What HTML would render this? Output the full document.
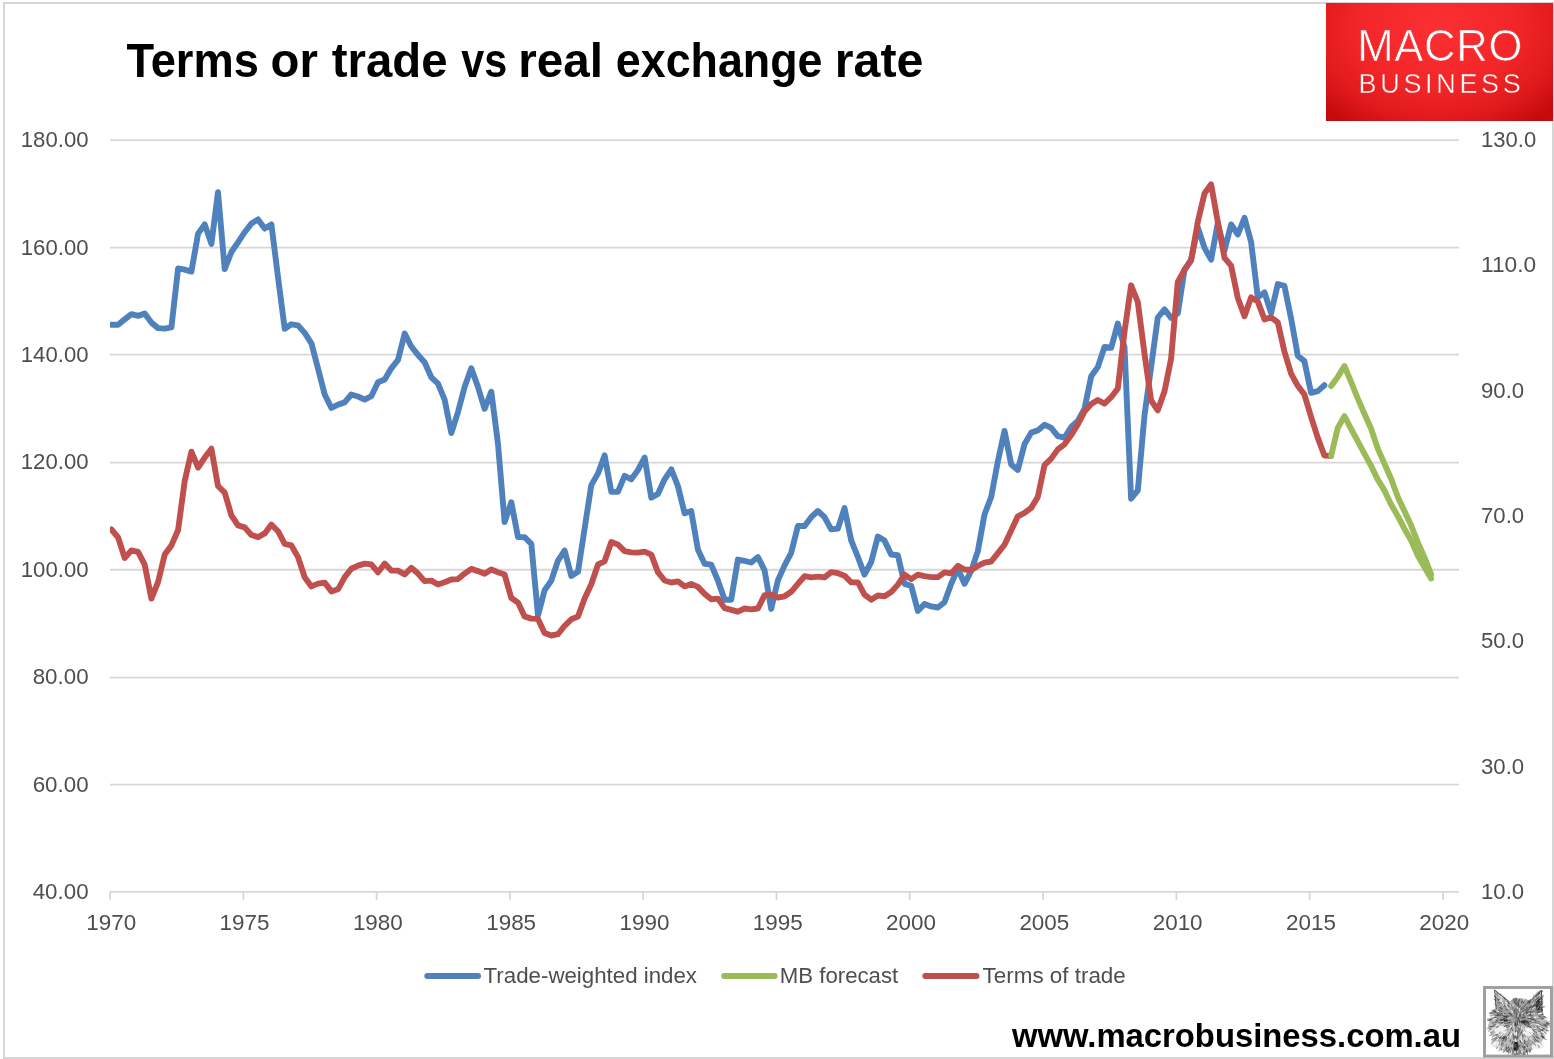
<!DOCTYPE html>
<html lang="en"><head><meta charset="utf-8"><title>Terms or trade vs real exchange rate</title>
<style>
html,body{margin:0;padding:0;background:#fff;}
body{width:1554px;height:1059px;overflow:hidden;}
svg{display:block;}
text{font-family:"Liberation Sans",sans-serif;}
.ax{font-size:21.8px;fill:#4e4e4e;}
.lg{font-size:22.5px;fill:#4e4e4e;}
.ttl{font-size:49px;font-weight:bold;fill:#000;}
.ftr{font-size:33px;font-weight:bold;fill:#000;}
</style></head><body>
<svg width="1554" height="1059" viewBox="0 0 1554 1059">
<defs>
<radialGradient id="lg1" gradientUnits="userSpaceOnUse" cx="1437" cy="28" r="158" gradientTransform="translate(1437 28) scale(1 0.74) translate(-1437 -28)">
<stop offset="0" stop-color="#fc3032"/><stop offset="0.5" stop-color="#f22628"/><stop offset="0.78" stop-color="#e01a1c"/><stop offset="1" stop-color="#c40a0c"/>
</radialGradient>
</defs>
<rect x="0" y="0" width="1554" height="1059" fill="#fff"/>
<rect x="4" y="3" width="1549" height="1055" fill="none" stroke="#d6d6d6" stroke-width="2"/>

<g stroke="#d7d7d7" stroke-width="1.8" fill="none">
<line x1="110" y1="140.04" x2="1459" y2="140.04"/>
<line x1="110" y1="247.60" x2="1459" y2="247.60"/>
<line x1="110" y1="354.60" x2="1459" y2="354.60"/>
<line x1="110" y1="462.70" x2="1459" y2="462.70"/>
<line x1="110" y1="569.75" x2="1459" y2="569.75"/>
<line x1="110" y1="677.60" x2="1459" y2="677.60"/>
<line x1="110" y1="784.65" x2="1459" y2="784.65"/>
<line x1="110" y1="891.97" x2="1459" y2="891.97"/>
<line x1="110.0" y1="892" x2="110.0" y2="900"/>
<line x1="243.3" y1="892" x2="243.3" y2="900"/>
<line x1="376.6" y1="892" x2="376.6" y2="900"/>
<line x1="509.9" y1="892" x2="509.9" y2="900"/>
<line x1="643.2" y1="892" x2="643.2" y2="900"/>
<line x1="776.5" y1="892" x2="776.5" y2="900"/>
<line x1="909.8" y1="892" x2="909.8" y2="900"/>
<line x1="1043.1" y1="892" x2="1043.1" y2="900"/>
<line x1="1176.4" y1="892" x2="1176.4" y2="900"/>
<line x1="1309.7" y1="892" x2="1309.7" y2="900"/>
<line x1="1443.0" y1="892" x2="1443.0" y2="900"/>
</g>
<text class="ax" x="20.8" y="147.1" textLength="67.8" lengthAdjust="spacingAndGlyphs">180.00</text>
<text class="ax" x="20.8" y="254.5" textLength="67.8" lengthAdjust="spacingAndGlyphs">160.00</text>
<text class="ax" x="20.8" y="362.0" textLength="67.8" lengthAdjust="spacingAndGlyphs">140.00</text>
<text class="ax" x="20.8" y="469.4" textLength="67.8" lengthAdjust="spacingAndGlyphs">120.00</text>
<text class="ax" x="20.8" y="576.8" textLength="67.8" lengthAdjust="spacingAndGlyphs">100.00</text>
<text class="ax" x="32.7" y="684.3" textLength="55.9" lengthAdjust="spacingAndGlyphs">80.00</text>
<text class="ax" x="32.7" y="791.7" textLength="55.9" lengthAdjust="spacingAndGlyphs">60.00</text>
<text class="ax" x="32.7" y="899.1" textLength="55.9" lengthAdjust="spacingAndGlyphs">40.00</text>
<text class="ax" x="1481" y="147.1" textLength="55.2" lengthAdjust="spacingAndGlyphs">130.0</text>
<text class="ax" x="1481" y="272.4" textLength="55.2" lengthAdjust="spacingAndGlyphs">110.0</text>
<text class="ax" x="1481" y="397.8" textLength="43.2" lengthAdjust="spacingAndGlyphs">90.0</text>
<text class="ax" x="1481" y="523.1" textLength="43.2" lengthAdjust="spacingAndGlyphs">70.0</text>
<text class="ax" x="1481" y="648.4" textLength="43.2" lengthAdjust="spacingAndGlyphs">50.0</text>
<text class="ax" x="1481" y="773.8" textLength="43.2" lengthAdjust="spacingAndGlyphs">30.0</text>
<text class="ax" x="1481" y="899.1" textLength="43.2" lengthAdjust="spacingAndGlyphs">10.0</text>
<text class="ax" x="86.3" y="930.4" textLength="49.9" lengthAdjust="spacingAndGlyphs">1970</text>
<text class="ax" x="219.6" y="930.4" textLength="49.9" lengthAdjust="spacingAndGlyphs">1975</text>
<text class="ax" x="352.9" y="930.4" textLength="49.9" lengthAdjust="spacingAndGlyphs">1980</text>
<text class="ax" x="486.2" y="930.4" textLength="49.9" lengthAdjust="spacingAndGlyphs">1985</text>
<text class="ax" x="619.5" y="930.4" textLength="49.9" lengthAdjust="spacingAndGlyphs">1990</text>
<text class="ax" x="752.8" y="930.4" textLength="49.9" lengthAdjust="spacingAndGlyphs">1995</text>
<text class="ax" x="886.1" y="930.4" textLength="49.9" lengthAdjust="spacingAndGlyphs">2000</text>
<text class="ax" x="1019.4" y="930.4" textLength="49.9" lengthAdjust="spacingAndGlyphs">2005</text>
<text class="ax" x="1152.7" y="930.4" textLength="49.9" lengthAdjust="spacingAndGlyphs">2010</text>
<text class="ax" x="1286.0" y="930.4" textLength="49.9" lengthAdjust="spacingAndGlyphs">2015</text>
<text class="ax" x="1419.3" y="930.4" textLength="49.9" lengthAdjust="spacingAndGlyphs">2020</text>
<clipPath id="pc"><rect x="110" y="120" width="1360" height="780"/></clipPath>
<g fill="none" stroke-width="5.9" stroke-linejoin="round" stroke-linecap="round" clip-path="url(#pc)">
<polyline stroke="#4f81bd" points="111.4,324.8 118.1,324.8 124.7,319.4 131.4,314.2 138.1,315.9 144.7,313.6 151.4,322.6 158.1,328.1 164.7,328.6 171.4,327.3 178.1,268.4 184.7,269.6 191.4,271.6 198.1,233.6 204.7,224.4 211.4,243.9 218.0,192.2 224.7,269.1 231.4,252.0 238.0,242.3 244.7,232.2 251.4,223.5 258.0,219.4 264.7,228.6 271.4,224.4 278.0,277.1 284.7,328.9 291.4,324.3 298.0,325.4 304.7,332.9 311.4,343.3 318.0,368.6 324.7,394.5 331.4,407.9 338.0,404.6 344.7,402.4 351.3,394.5 358.0,396.5 364.7,399.6 371.3,396.2 378.0,382.3 384.7,379.5 391.3,368.3 398.0,359.9 404.7,333.5 411.3,346.5 418.0,354.9 424.6,362.2 431.3,377.3 438.0,383.6 444.6,399.6 451.3,433.0 458.0,412.1 464.6,387.0 471.3,368.3 478.0,387.0 484.6,408.8 491.3,391.7 498.0,443.9 504.6,522.0 511.3,502.2 518.0,537.1 524.6,537.2 531.3,543.8 538.0,615.4 544.6,590.3 551.3,580.6 558.0,560.5 564.6,550.5 571.3,576.0 578.0,571.7 584.6,528.6 591.3,485.1 598.0,473.4 604.6,455.4 611.3,491.9 617.9,491.9 624.6,475.9 631.3,479.3 637.9,470.1 644.6,457.6 651.3,497.7 657.9,493.9 664.6,479.3 671.3,469.3 677.9,486.0 684.6,513.3 691.2,511.1 697.9,549.6 704.6,563.8 711.2,564.6 717.9,580.5 724.6,599.8 731.2,599.7 737.9,559.6 744.6,560.9 751.2,562.5 757.9,557.0 764.6,570.4 771.2,608.9 777.9,580.4 784.6,565.4 791.2,552.8 797.9,526.0 804.6,526.0 811.2,517.2 817.9,511.0 824.5,517.2 831.2,529.4 837.9,528.6 844.5,508.1 851.2,540.3 857.9,557.0 864.5,574.6 871.2,562.0 877.9,536.6 884.5,540.6 891.2,554.5 897.9,555.3 904.5,583.8 911.2,585.8 917.9,610.9 924.5,603.9 931.2,606.4 937.9,607.5 944.5,602.2 951.2,583.8 957.9,568.7 964.5,583.8 971.2,570.9 977.9,550.9 984.5,514.5 991.2,497.0 997.9,461.1 1004.5,430.9 1011.2,464.4 1017.8,469.9 1024.5,444.3 1031.2,432.6 1037.8,430.4 1044.5,424.8 1051.2,427.9 1057.8,436.1 1064.5,437.6 1071.2,427.0 1077.8,420.8 1084.5,408.6 1091.2,376.3 1097.8,367.1 1104.5,347.0 1111.2,347.8 1117.8,323.6 1124.5,347.0 1131.1,498.7 1137.8,490.4 1144.5,415.3 1151.1,367.1 1157.8,317.5 1164.5,309.3 1171.1,317.9 1177.8,313.3 1184.5,269.8 1191.1,259.6 1197.8,227.3 1204.5,247.9 1211.1,259.6 1217.8,223.1 1224.5,250.4 1231.1,224.4 1237.8,234.5 1244.5,217.8 1251.1,242.0 1257.8,297.4 1264.5,292.4 1271.1,313.2 1277.8,284.1 1284.4,285.9 1291.1,318.6 1297.8,355.7 1304.4,361.1 1311.1,392.8 1317.8,391.1 1324.4,385.2"/>
<polyline stroke="#c0504d" points="111.4,529.5 118.1,537.4 124.7,558.0 131.4,550.4 138.1,551.8 144.7,564.7 151.4,598.6 158.1,581.9 164.7,554.6 171.4,545.4 178.1,530.0 184.7,481.0 191.4,451.7 198.1,467.6 204.7,457.6 211.4,448.7 218.0,486.0 224.7,492.7 231.4,515.3 238.0,525.4 244.7,527.4 251.4,535.0 258.0,537.1 264.7,533.4 271.4,524.5 278.0,531.2 284.7,543.8 291.4,545.4 298.0,557.1 304.7,577.2 311.4,586.4 318.0,583.6 324.7,582.6 331.4,591.4 338.0,589.3 344.7,577.1 351.3,568.7 358.0,565.6 364.7,563.6 371.3,564.4 378.0,572.3 384.7,563.6 391.3,570.6 398.0,570.6 404.7,574.5 411.3,567.8 418.0,573.6 424.6,581.1 431.3,580.6 438.0,584.5 444.6,582.3 451.3,579.5 458.0,579.1 464.6,573.6 471.3,568.9 478.0,571.1 484.6,573.7 491.3,569.5 498.0,572.2 504.6,574.6 511.3,598.0 518.0,602.6 524.6,616.4 531.3,618.6 538.0,618.9 544.6,633.0 551.3,635.5 558.0,634.2 564.6,625.8 571.3,619.3 578.0,616.6 584.6,598.4 591.3,584.2 598.0,564.5 604.6,561.3 611.3,542.0 617.9,544.5 624.6,551.2 631.3,552.4 637.9,552.6 644.6,551.6 651.3,554.6 657.9,572.1 664.6,580.5 671.3,582.5 677.9,581.4 684.6,586.4 691.2,583.9 697.9,586.9 704.6,593.9 711.2,599.3 717.9,598.6 724.6,608.1 731.2,609.8 737.9,611.7 744.6,608.5 751.2,609.4 757.9,608.5 764.6,595.1 771.2,594.6 777.9,597.5 784.6,596.3 791.2,591.8 797.9,583.8 804.6,576.2 811.2,577.4 817.9,576.6 824.5,577.4 831.2,572.1 837.9,573.2 844.5,575.7 851.2,582.4 857.9,582.4 864.5,594.6 871.2,599.7 877.9,595.5 884.5,596.3 891.2,592.1 897.9,584.6 904.5,574.6 911.2,579.1 917.9,574.6 924.5,576.2 931.2,577.1 937.9,577.1 944.5,572.4 951.2,573.4 957.9,565.9 964.5,569.5 971.2,570.0 977.9,565.9 984.5,562.6 991.2,561.5 997.9,553.1 1004.5,544.7 1011.2,530.5 1017.8,516.3 1024.5,512.9 1031.2,507.9 1037.8,497.0 1044.5,465.2 1051.2,458.6 1057.8,449.4 1064.5,444.3 1071.2,435.1 1077.8,424.5 1084.5,411.6 1091.2,404.0 1097.8,400.0 1104.5,403.6 1111.2,397.2 1117.8,388.5 1124.5,331.9 1131.1,285.3 1137.8,302.0 1144.5,353.7 1151.1,400.5 1157.8,410.3 1164.5,391.3 1171.1,358.7 1177.8,282.0 1184.5,269.8 1191.1,260.6 1197.8,221.9 1204.5,193.5 1211.1,184.3 1217.8,221.9 1224.5,257.9 1231.1,265.6 1237.8,297.9 1244.5,316.3 1251.1,297.4 1257.8,301.6 1264.5,319.4 1271.1,317.3 1277.8,322.3 1284.4,351.5 1291.1,373.6 1297.8,385.8 1304.4,394.6 1311.1,417.0 1317.8,437.9 1324.4,455.5 1331.1,455.9"/>
<polyline stroke="#9bbb59" points="1331.1,386.1 1337.8,376.9 1344.4,366.0 1351.1,381.9 1357.8,398.6 1364.4,413.7 1371.1,428.8 1377.8,448.6 1384.4,463.6 1391.1,478.7 1397.8,496.9 1404.4,511.1 1411.1,525.3 1417.7,542.1 1424.4,557.1 1431.1,574.4"/>
<polyline stroke="#9bbb59" points="1331.1,455.9 1337.8,427.9 1344.4,416.2 1351.1,428.8 1357.8,441.3 1364.4,453.6 1371.1,465.8 1377.8,479.6 1384.4,490.4 1391.1,504.4 1397.8,516.1 1404.4,528.7 1411.1,540.4 1417.7,555.4 1424.4,567.1 1431.1,578.5"/>
</g>
<g fill="none" stroke-width="6" stroke-linecap="round">
<line x1="427.3" y1="975.9" x2="478" y2="975.9" stroke="#4f81bd"/>
<line x1="724.2" y1="975.9" x2="774.6" y2="975.9" stroke="#9bbb59"/>
<line x1="925.3" y1="975.9" x2="976.5" y2="975.9" stroke="#c0504d"/>
</g>
<text class="lg" x="483.6" y="983.2" textLength="213.4" lengthAdjust="spacingAndGlyphs">Trade-weighted index</text>
<text class="lg" x="779.8" y="983.2" textLength="118.4" lengthAdjust="spacingAndGlyphs">MB forecast</text>
<text class="lg" x="982.6" y="983.2" textLength="143.2" lengthAdjust="spacingAndGlyphs">Terms of trade</text>
<text class="ttl" x="126.4" y="76.8" textLength="132.5" lengthAdjust="spacingAndGlyphs">Terms</text>
<text class="ttl" x="270.6" y="76.8" textLength="47.3" lengthAdjust="spacingAndGlyphs">or</text>
<text class="ttl" x="331.8" y="76.8" textLength="115.7" lengthAdjust="spacingAndGlyphs">trade</text>
<text class="ttl" x="461.2" y="76.8" textLength="45.9" lengthAdjust="spacingAndGlyphs">vs</text>
<text class="ttl" x="518.2" y="76.8" textLength="84.7" lengthAdjust="spacingAndGlyphs">real</text>
<text class="ttl" x="615.8" y="76.8" textLength="206.7" lengthAdjust="spacingAndGlyphs">exchange</text>
<text class="ttl" x="834.8" y="76.8" textLength="88.6" lengthAdjust="spacingAndGlyphs">rate</text>
<text class="ftr" x="1012" y="1047" textLength="449" lengthAdjust="spacingAndGlyphs">www.macrobusiness.com.au</text>
<rect x="1326" y="3" width="227" height="118" fill="url(#lg1)"/>
<text x="1357.2" y="60.9" font-size="43.6" fill="#fff" stroke="url(#lg1)" stroke-width="0.7" textLength="165.2" lengthAdjust="spacing">MACRO</text>
<text x="1358.6" y="92.9" font-size="27" fill="#fff" stroke="url(#lg1)" stroke-width="0.45" textLength="162.2" lengthAdjust="spacing">BUSINESS</text>
<rect x="1484.5" y="987.5" width="67" height="68.6" fill="#fff" stroke="#a0a0a0" stroke-width="3"/>
<clipPath id="fc"><rect x="1486" y="989" width="64" height="66"/></clipPath><g clip-path="url(#fc)"><clipPath id="fh"><polygon points="1494.6,990.1 1503.3,997.2 1509.7,1002.0 1514.4,997.6 1525.5,998.8 1530.3,1001.2 1536.6,992.1 1541.8,990.1 1542.6,1001.2 1541.8,1012.3 1547.3,1019.4 1548.1,1027.4 1545.4,1035.3 1541.4,1042.4 1533.5,1048.8 1525.5,1053.5 1517.6,1054.7 1509.7,1053.5 1501.7,1050.4 1493.8,1044.8 1491.4,1035.3 1487.8,1026.6 1490.6,1016.2 1493.0,1009.9 1496.6,1008.3 1495.4,998.8"/></clipPath>
<polygon points="1494.6,990.1 1503.3,997.2 1509.7,1002.0 1514.4,997.6 1525.5,998.8 1530.3,1001.2 1536.6,992.1 1541.8,990.1 1542.6,1001.2 1541.8,1012.3 1547.3,1019.4 1548.1,1027.4 1545.4,1035.3 1541.4,1042.4 1533.5,1048.8 1525.5,1053.5 1517.6,1054.7 1509.7,1053.5 1501.7,1050.4 1493.8,1044.8 1491.4,1035.3 1487.8,1026.6 1490.6,1016.2 1493.0,1009.9 1496.6,1008.3 1495.4,998.8" fill="#bdbdbd"/>
<ellipse cx="1517.6" cy="1012.3" rx="26.2" ry="13.5" fill="#a2a2a2" clip-path="url(#fh)"/>
<ellipse cx="1500.9" cy="1030.5" rx="6.3" ry="4.4" fill="#eeeeee"/>
<ellipse cx="1527.9" cy="1032.1" rx="5.6" ry="4.0" fill="#eeeeee"/>
<ellipse cx="1496.2" cy="1044.8" rx="5.6" ry="3.2" fill="#eeeeee"/>
<ellipse cx="1538.2" cy="1045.6" rx="6.3" ry="3.2" fill="#eeeeee"/>
<ellipse cx="1504.1" cy="1020.2" rx="4.4" ry="1.7" fill="#4a4a4a"/>
<ellipse cx="1524.7" cy="1021.8" rx="4.4" ry="1.9" fill="#3a3a3a"/>
<ellipse cx="1516.0" cy="1046.4" rx="2.5" ry="4.4" fill="#111"/>
<ellipse cx="1538.2" cy="1005.9" rx="2.4" ry="6.3" fill="#333"/>
<ellipse cx="1503.3" cy="1037.7" rx="4.4" ry="1.4" fill="#555"/>
<path d="M1515.2 1044.4L1515.0 1045.7M1541.3 1007.4L1544.4 1006.8M1495.7 1000.6L1493.9 999.1M1499.4 999.7L1498.0 999.0M1502.1 1011.9L1499.7 1009.8M1515.8 1020.9L1516.0 1023.8M1530.6 1006.2L1532.5 1005.0M1509.3 1003.6L1507.9 1001.6M1508.4 1025.2L1506.0 1025.9M1518.1 1024.1L1518.2 1025.3M1496.3 1017.5L1494.5 1017.7M1521.5 1018.1L1523.6 1017.6M1522.5 1035.2L1523.0 1037.2M1501.3 996.2L1500.0 995.0M1533.4 1005.9L1536.1 1004.6M1528.9 1007.6L1530.0 1006.5M1510.4 1020.3L1509.2 1020.5M1517.5 1018.8L1517.6 1021.6M1509.1 1017.3L1506.2 1017.3M1504.3 1050.7L1503.7 1052.2M1505.3 1025.8L1504.1 1026.9M1510.2 1013.7L1508.6 1013.0M1526.6 1051.3L1527.5 1054.2M1534.2 1005.3L1535.7 1004.2M1517.9 1035.8L1517.8 1038.4M1529.4 1001.2L1531.1 999.6M1519.1 1014.3L1519.0 1015.6M1528.2 1018.5L1530.3 1018.5M1497.5 1020.2L1496.1 1020.4M1502.8 1022.4L1501.4 1023.0M1528.5 1009.6L1529.9 1007.7M1538.1 1000.5L1539.6 998.0M1533.5 1018.9L1534.7 1018.6M1526.4 1008.0L1527.7 1006.9M1506.4 1017.0L1503.8 1016.8M1508.2 1035.5L1507.3 1036.5M1538.5 1000.2L1541.2 998.6M1531.0 1044.7L1532.2 1046.1M1519.4 999.6L1519.3 1001.0M1536.9 1037.4L1537.8 1038.4M1518.0 1030.7L1518.1 1033.4M1500.0 1041.9L1499.0 1044.5M1516.0 1008.4L1516.1 1011.3M1532.2 1007.6L1533.8 1006.3M1539.7 1002.0L1541.5 1001.1M1529.8 1049.3L1530.8 1051.9M1519.4 1020.5L1519.6 1023.0M1498.9 1000.9L1496.9 998.7M1528.9 1014.9L1532.0 1014.9M1528.8 1002.9L1529.5 1001.5M1524.9 1021.7L1527.4 1022.6M1537.9 1027.5L1539.7 1028.5M1541.6 1036.3L1543.5 1037.6M1513.7 1022.3L1513.5 1025.4M1524.0 1052.1L1524.6 1054.3M1495.5 997.2L1494.2 996.0M1523.5 1021.9L1526.1 1022.7M1514.4 1001.2L1514.4 1002.5M1513.3 1049.1L1512.9 1051.3M1519.1 1023.1L1519.1 1025.0M1542.8 1016.8L1545.0 1016.6M1522.8 1016.1L1524.1 1015.7M1535.3 1010.3L1536.7 1009.2M1520.2 1014.4L1520.0 1016.3M1493.9 1022.9L1491.9 1022.8M1540.5 1010.2L1542.3 1009.6M1518.0 1008.6L1518.3 1011.2M1540.2 1012.2L1542.7 1010.6M1533.0 1036.0L1534.3 1036.9M1505.4 1014.1L1504.1 1013.3M1513.8 1034.2L1513.7 1035.9M1508.9 1016.2L1506.3 1015.8M1517.6 1022.0L1518.0 1024.5M1504.9 1018.2L1503.6 1018.4M1518.1 1046.6L1518.9 1049.4M1529.5 1014.9L1531.5 1014.7M1515.4 1054.1L1515.1 1055.8M1516.8 1013.2L1516.9 1014.4M1503.7 1006.0L1501.6 1004.5M1546.5 1030.4L1548.5 1030.8M1495.7 1037.6L1494.5 1038.3M1542.5 1037.3L1543.7 1037.8M1512.1 1025.7L1510.4 1027.5M1541.9 1036.4L1544.6 1038.0M1510.8 1014.4L1510.2 1013.4M1529.5 1013.2L1531.1 1012.2M1498.9 1026.7L1497.2 1027.1M1509.8 1032.9L1508.6 1034.5M1516.3 1047.8L1516.2 1050.6M1528.9 1037.9L1529.9 1039.9M1535.2 1039.8L1537.7 1041.3M1503.6 1006.3L1502.4 1004.3M1518.7 1016.7L1518.4 1019.6M1520.1 1016.0L1520.0 1017.8M1527.0 1003.7L1528.4 1001.5M1517.0 1046.0L1517.5 1047.4M1498.7 1015.6L1495.7 1015.6M1536.2 1035.9L1538.4 1038.1M1512.4 1015.9L1510.7 1014.0M1495.7 1011.7L1493.8 1011.4M1539.7 1004.3L1541.2 1002.8M1540.1 1029.9L1542.6 1030.5M1539.2 999.7L1541.0 997.2M1515.1 1042.4L1515.6 1044.7M1533.3 1000.3L1534.3 998.6M1509.2 1049.6L1508.6 1051.2M1512.4 1042.3L1511.5 1045.3M1524.6 1043.4L1525.3 1044.6M1537.3 1012.7L1539.2 1012.6M1518.5 1002.8L1518.3 1005.9M1517.0 1031.2L1517.1 1032.6M1514.3 1035.6L1514.3 1037.0M1503.5 1005.5L1501.1 1003.8M1538.8 1009.7L1541.7 1008.5M1535.2 1000.7L1536.9 998.8M1527.7 1026.6L1530.6 1027.3M1515.4 1036.0L1515.6 1037.6M1516.0 1050.8L1516.5 1053.5M1527.8 1023.0L1529.8 1024.0M1523.2 1047.5L1524.3 1049.6M1500.2 1003.2L1498.5 1002.2M1542.0 1027.9L1544.5 1028.8M1495.5 1011.1L1493.5 1010.5M1537.3 995.2L1539.4 993.4M1519.9 1040.2L1520.4 1042.3M1492.7 1019.1L1489.7 1020.0M1515.8 1029.9L1515.6 1031.9M1535.1 997.9L1536.2 995.9M1516.3 1052.1L1516.3 1054.8M1499.7 1011.5L1498.5 1011.1M1537.0 1004.0L1538.4 1003.2M1513.7 1036.4L1513.4 1039.1M1535.1 1005.2L1536.9 1003.6M1505.4 999.7L1504.2 998.3M1516.2 1002.1L1516.5 1004.6M1546.5 1025.3L1549.5 1025.0M1506.7 1020.7L1504.8 1020.4M1537.6 998.7L1539.1 996.5M1544.5 1026.0L1547.1 1026.4M1525.4 1009.9L1527.7 1008.4M1508.0 1050.6L1507.3 1051.8M1497.9 1022.0L1495.8 1021.7M1536.3 1005.5L1538.6 1004.7M1521.0 1009.7L1521.3 1008.0M1521.4 1002.6L1522.6 1000.4M1493.1 1038.3L1491.3 1040.0M1500.3 1015.3L1497.3 1014.1M1516.3 998.3L1516.2 1000.7M1518.7 1027.8L1518.7 1029.8M1528.5 1001.2L1530.3 999.4M1534.3 1037.4L1535.7 1039.5M1541.5 1018.0L1543.0 1018.4M1498.3 1040.0L1496.5 1041.1M1511.4 1028.3L1510.6 1030.0M1540.8 1005.1L1542.6 1003.0M1537.9 1006.8L1539.2 1006.5M1528.0 1024.1L1529.5 1025.2M1528.5 1018.5L1530.6 1018.7M1490.6 1030.2L1489.1 1031.1M1509.6 1022.6L1507.0 1023.3M1536.4 1002.1L1537.6 1001.4M1523.0 1003.4L1524.0 1001.9M1541.5 1014.6L1543.0 1014.4M1541.7 992.3L1542.4 991.2M1526.5 1044.6L1527.7 1046.9M1514.3 1010.4L1514.2 1012.2M1511.3 1022.1L1509.6 1022.8M1505.3 1036.2L1504.6 1038.3M1538.6 1016.5L1539.8 1016.6M1524.2 1046.0L1524.6 1048.3M1532.1 1007.3L1533.5 1006.2M1540.1 1033.2L1541.4 1034.1M1505.4 1006.7L1504.0 1005.3M1514.5 1041.3L1513.9 1042.8M1501.8 1023.1L1500.3 1023.1M1508.3 1047.1L1507.7 1048.3M1504.1 1037.8L1502.8 1040.4M1522.3 1045.9L1523.3 1047.9M1526.5 1013.1L1528.5 1011.9M1514.6 1053.8L1514.6 1055.4M1521.4 1032.2L1521.9 1033.4M1536.1 1036.4L1537.2 1037.8M1510.8 1039.8L1509.8 1041.8M1498.7 1009.5L1496.2 1008.5M1493.5 1013.2L1491.1 1013.0M1530.5 1021.5L1533.3 1022.0M1494.0 1026.0L1491.0 1026.6M1519.0 1005.8L1519.2 1007.5M1514.1 1048.9L1514.3 1050.5M1515.5 1023.8L1515.4 1026.0M1506.9 1005.4L1505.1 1003.3M1529.6 1007.6L1530.8 1007.1M1524.5 1040.6L1524.8 1043.2M1520.3 1041.0L1520.7 1042.3M1490.9 1026.6L1489.6 1027.0M1538.9 994.0L1539.8 992.1M1531.7 1020.1L1533.8 1019.5M1520.2 1052.2L1519.9 1053.8M1530.6 1012.0L1533.3 1011.6M1523.8 1017.3L1525.3 1017.1M1534.3 1028.5L1535.8 1029.2M1523.6 1053.7L1523.7 1055.1M1506.2 1020.4L1504.4 1020.3M1506.5 1047.2L1506.0 1049.6M1512.1 1026.4L1511.5 1027.7M1526.5 1050.6L1526.9 1051.8M1500.2 1032.4L1499.3 1033.2M1502.6 1014.2L1500.9 1013.9M1506.8 1016.4L1503.9 1016.5M1533.2 1021.5L1535.2 1022.4M1537.0 1001.2L1539.0 999.7M1519.6 1045.3L1519.7 1046.9M1523.9 1024.0L1525.8 1025.4M1537.2 1006.4L1539.2 1005.9M1516.1 1024.1L1516.3 1025.7M1517.6 1041.5L1518.0 1043.4M1502.4 1022.7L1500.2 1022.7M1515.7 1050.8L1515.8 1052.4M1541.4 1035.5L1543.9 1037.3" stroke="#222" stroke-width="0.65" fill="none" stroke-linecap="round"/>
<path d="M1520.3 1013.1L1520.3 1014.5M1504.5 998.5L1504.1 997.0M1523.5 1018.9L1525.2 1019.0M1535.2 997.5L1536.3 996.8M1511.1 1015.3L1509.8 1014.9M1546.9 1023.9L1549.1 1023.5M1534.0 1020.6L1536.8 1020.4M1502.1 1008.3L1500.3 1007.4M1537.1 1000.4L1538.5 999.2M1535.4 1022.5L1537.3 1023.4M1525.2 1022.4L1527.4 1023.0M1505.5 1039.1L1505.0 1040.9M1529.6 1021.3L1531.7 1022.0M1520.3 1032.5L1520.5 1034.2M1517.6 1014.2L1517.5 1016.7M1502.3 1038.1L1501.8 1039.3M1504.6 1023.1L1502.1 1024.7M1516.2 1011.7L1516.4 1014.2M1512.4 1016.3L1511.3 1015.7M1501.9 996.2L1500.6 993.4M1523.3 1014.6L1524.3 1013.1M1531.1 1009.3L1532.9 1008.3M1512.9 1034.0L1512.9 1035.7M1538.5 1004.2L1540.7 1002.1M1517.7 1001.4L1517.5 1002.8M1509.3 1048.2L1508.1 1050.6M1507.0 1010.1L1505.6 1009.4M1541.4 1018.6L1542.8 1019.0M1524.2 1029.9L1525.4 1031.0M1527.0 1049.0L1527.9 1051.1M1519.4 1050.1L1518.9 1053.2M1521.2 1030.4L1521.9 1032.3M1514.3 1022.7L1514.1 1025.4M1503.6 1042.8L1502.4 1043.9M1536.2 996.6L1537.9 994.2M1534.9 1018.2L1537.6 1017.1M1492.8 1012.6L1491.3 1012.0M1511.7 1006.4L1511.1 1004.6M1501.9 1048.6L1501.2 1050.2M1531.5 1006.6L1533.5 1005.4M1522.5 1009.3L1523.2 1006.4M1540.5 1029.8L1543.0 1030.8M1517.5 1041.6L1517.8 1044.4M1493.0 1031.0L1490.4 1031.9M1526.2 1012.5L1527.5 1012.0M1510.3 1047.3L1509.6 1050.0M1534.2 1031.7L1536.9 1032.7M1528.4 1038.0L1529.2 1040.2M1499.2 1014.6L1496.9 1013.5M1527.1 1019.0L1529.0 1018.3M1529.2 1050.4L1529.6 1052.3M1517.3 1053.3L1518.0 1056.0M1546.2 1023.3L1548.8 1023.7M1512.3 1051.6L1512.1 1054.3M1503.6 1015.4L1501.0 1014.8M1508.5 1006.5L1508.0 1004.3M1537.8 1030.9L1540.8 1031.8M1503.1 1013.8L1501.9 1013.6M1542.5 1025.6L1544.7 1025.6M1489.7 1019.8L1487.5 1019.9M1517.0 1048.2L1516.9 1050.1M1541.1 1013.2L1542.8 1013.1M1524.2 1033.9L1525.5 1036.3M1502.5 1008.9L1500.4 1007.6M1516.4 1016.2L1516.6 1017.4M1538.3 994.3L1539.6 991.7M1509.5 1026.9L1508.1 1029.4M1515.8 1002.6L1515.8 1004.0M1537.6 1040.0L1539.1 1042.5M1509.2 1026.3L1508.5 1027.3M1539.7 1011.1L1542.4 1009.7M1539.3 1023.8L1540.7 1024.5M1514.5 1023.0L1514.3 1024.9M1517.7 1022.9L1517.4 1024.5M1530.7 1001.9L1532.2 1000.2M1523.9 1045.8L1524.0 1047.4M1538.2 1044.9L1539.3 1047.8M1503.0 1033.8L1500.9 1035.0M1521.0 1044.4L1521.1 1046.0M1531.5 1019.4L1533.3 1019.4M1508.6 1045.9L1508.1 1047.6M1533.3 999.2L1535.0 997.5M1533.6 1039.1L1535.2 1041.7M1541.9 1029.1L1544.4 1030.0M1512.3 1041.0L1512.6 1042.8M1523.3 1012.0L1524.4 1009.3M1523.3 1052.3L1523.8 1053.5M1503.3 1044.1L1501.4 1046.2M1546.9 1022.3L1549.4 1021.9M1528.1 1026.5L1529.6 1026.9M1528.5 1012.2L1530.0 1011.5M1491.5 1034.8L1489.8 1035.4M1513.1 1050.4L1512.3 1052.7M1528.9 1004.7L1530.8 1002.3M1493.2 1010.4L1491.9 1010.2M1517.3 1017.7L1517.0 1020.1M1501.7 998.2L1501.1 996.5M1513.0 1011.4L1512.8 1012.9M1529.4 1018.5L1531.8 1018.1M1520.0 1005.6L1519.9 1007.0M1518.8 1027.8L1518.9 1030.8M1501.2 1013.6L1499.4 1013.3M1496.8 1038.2L1494.4 1039.9M1493.1 1041.8L1491.5 1043.9M1541.9 1029.3L1544.8 1029.8M1496.9 1012.8L1495.0 1012.4M1503.5 1022.0L1500.4 1022.5M1526.7 1012.1L1527.8 1010.6M1541.7 1018.9L1543.3 1018.7M1500.0 1015.4L1497.8 1014.2M1526.1 1011.1L1527.4 1009.4M1507.2 1037.9L1505.5 1040.1M1506.7 1048.6L1506.7 1051.1M1511.7 1046.0L1511.3 1049.0M1534.1 1043.3L1535.9 1045.7M1506.3 1047.0L1506.0 1049.0M1497.5 1034.2L1496.3 1035.1M1524.9 1050.1L1525.5 1051.7M1531.6 1015.0L1533.4 1014.7M1526.2 1024.8L1529.1 1025.9M1516.3 1036.6L1516.6 1039.7M1530.5 1018.7L1532.0 1018.8M1534.2 1026.3L1536.1 1027.3M1541.8 998.6L1543.4 995.9M1502.5 1002.3L1500.9 1000.8M1506.8 1044.5L1505.5 1046.0M1546.1 1023.7L1548.2 1024.4M1507.3 1018.7L1504.6 1019.1M1492.2 1031.7L1490.6 1032.7M1493.5 1019.9L1491.6 1019.9M1522.5 1034.5L1523.5 1035.9M1536.7 1020.7L1539.2 1021.6M1538.8 1015.8L1540.7 1015.9M1512.8 1028.9L1512.4 1030.8M1526.4 1013.8L1528.6 1013.3M1529.7 1025.8L1531.7 1027.6M1536.8 1011.9L1538.3 1011.8M1514.8 1044.2L1514.9 1045.8M1534.5 1020.0L1536.2 1020.4M1528.8 1048.5L1530.1 1050.1M1518.1 1045.2L1518.4 1047.6M1526.3 1011.4L1528.0 1009.3M1490.6 1020.5L1488.0 1020.3M1515.1 1011.6L1515.3 1014.2M1519.0 1017.9L1519.2 1020.3M1542.9 1024.3L1545.8 1025.0M1498.8 1019.1L1496.7 1018.8M1502.8 999.1L1500.4 997.1M1504.6 1015.2L1501.8 1015.2M1537.9 1019.2L1540.0 1018.8M1521.0 1012.3L1523.0 1010.2M1492.5 1013.3L1490.1 1013.3M1515.2 1015.9L1515.0 1018.7M1509.3 1036.7L1508.8 1038.6M1501.9 1041.5L1500.7 1042.7M1498.4 1003.5L1496.9 1001.9M1501.0 1021.9L1498.4 1023.0M1514.1 998.3L1513.8 1000.3M1524.9 1006.0L1525.8 1004.9M1497.6 1034.7L1496.0 1036.2M1500.9 1037.5L1499.7 1038.4M1531.1 1017.9L1533.4 1016.8M1536.7 1037.1L1539.3 1038.6M1495.9 1034.7L1493.9 1036.8M1536.6 1004.3L1537.9 1003.4M1498.3 1027.4L1496.9 1028.4M1536.8 1009.4L1538.6 1007.7M1515.6 1002.0L1515.7 1004.7M1539.3 1000.2L1540.7 998.9M1507.7 1005.4L1507.3 1003.9M1540.7 1010.2L1542.1 1009.5M1540.3 1043.0L1541.8 1044.3M1500.5 1049.0L1498.6 1051.0M1523.6 1043.7L1524.6 1046.5M1528.6 1002.7L1530.7 1001.2M1532.9 1001.3L1534.0 1000.3M1524.5 1006.1L1525.6 1004.3M1518.3 1001.1L1518.3 1004.2M1508.7 1017.1L1507.2 1016.8M1526.3 1049.7L1527.3 1051.8M1520.0 1050.3L1520.5 1052.3M1525.0 1040.9L1525.8 1042.6M1544.4 1024.6L1545.8 1025.2M1545.2 1017.6L1547.1 1018.0M1497.2 1000.9L1496.4 999.8M1519.9 1033.9L1519.9 1036.0M1542.4 1028.7L1544.7 1030.4M1536.3 1023.0L1538.8 1023.3M1506.4 1039.0L1505.6 1041.8M1513.3 1050.6L1513.6 1052.3M1514.3 1036.9L1514.5 1039.1M1501.9 1042.8L1501.1 1045.6M1496.7 998.0L1495.2 996.9M1541.2 1033.2L1544.1 1034.4M1496.2 1022.2L1494.0 1022.6M1516.6 1014.6L1516.4 1017.4M1497.6 993.6L1495.6 992.1M1518.4 1011.1L1518.4 1012.7M1513.6 999.3L1513.4 1000.7M1518.1 1021.2L1518.0 1023.0M1531.8 1041.9L1533.6 1043.3M1522.2 1002.0L1522.6 1000.1M1516.9 1037.3L1517.0 1039.2M1500.7 1011.2L1498.9 1009.9M1509.6 1006.8L1508.9 1004.0M1534.7 1011.0L1535.7 1010.2M1539.9 1025.2L1541.6 1025.1M1491.8 1013.3L1489.2 1013.1M1519.0 1053.8L1519.2 1055.7M1512.7 1052.2L1513.0 1054.7M1502.6 1031.5L1501.2 1033.3M1506.1 1025.3L1504.8 1025.9M1535.9 1026.7L1537.8 1028.0M1525.2 1045.9L1526.1 1048.5M1533.7 1043.9L1534.7 1045.1M1498.1 995.6L1496.8 994.6M1516.4 1024.5L1516.8 1027.5M1532.5 1004.1L1533.9 1002.4M1517.3 1005.5L1517.1 1008.2M1546.7 1022.8L1549.4 1023.6M1515.5 1026.9L1515.8 1028.9M1527.4 1043.9L1528.1 1045.2M1541.9 1002.4L1543.0 1001.4M1523.5 1008.7L1524.2 1006.0M1517.7 1004.1L1517.6 1006.0M1541.3 1000.6L1542.6 999.0M1527.6 1015.6L1530.2 1013.9M1539.7 1004.9L1542.5 1004.2M1536.4 1020.4L1539.2 1021.1M1495.9 1024.6L1493.5 1025.8M1490.9 1018.9L1487.8 1019.0M1501.2 1009.1L1499.5 1007.7M1517.5 1015.7L1517.4 1017.1M1522.9 1014.0L1524.4 1012.9M1516.6 1030.9L1516.9 1032.7M1527.5 1041.8L1529.0 1043.9M1519.8 1029.0L1519.6 1032.1M1496.0 997.8L1495.0 996.7M1505.7 1023.0L1502.8 1024.0M1500.2 1013.8L1497.6 1012.0M1502.0 1009.8L1500.6 1008.0M1501.1 1040.5L1500.3 1041.5M1533.2 1030.3L1534.6 1030.9M1534.4 1021.3L1536.5 1021.1M1532.9 1033.1L1534.8 1035.0M1504.1 1038.5L1502.9 1041.3M1507.1 1010.2L1506.5 1009.1M1514.6 1009.1L1514.7 1012.2M1536.6 1026.1L1539.6 1026.3M1517.9 1032.9L1517.7 1034.5M1495.5 1023.9L1493.4 1025.0M1541.1 997.4L1543.3 995.2M1512.9 1006.6L1512.8 1009.5M1532.7 1002.6L1533.9 1001.7M1534.4 1026.8L1536.4 1027.5M1521.9 1012.9L1523.6 1010.2M1532.2 1015.1L1533.7 1014.5M1515.4 998.6L1515.2 1001.1M1516.3 1047.8L1516.9 1050.1M1507.9 1026.8L1506.5 1027.5M1507.0 1029.0L1505.0 1030.6M1525.2 1012.1L1526.7 1011.4M1497.5 1046.7L1496.6 1048.7M1494.1 1014.4L1491.4 1014.0M1512.1 1024.5L1509.8 1026.1M1519.9 1025.6L1520.2 1028.6M1535.8 999.1L1537.0 997.1M1543.6 1038.3L1546.4 1039.7M1536.1 1033.9L1538.3 1035.6M1521.8 1018.3L1524.7 1017.3M1502.4 1043.2L1501.1 1044.3M1509.5 1027.4L1508.5 1028.3M1537.0 1001.2L1539.2 999.1M1525.7 1024.8L1527.3 1025.1M1544.9 1024.1L1546.3 1024.2M1517.8 1035.3L1517.8 1038.0M1532.8 1029.6L1534.5 1031.4M1510.4 1050.8L1509.9 1052.4M1501.5 998.7L1500.6 996.4M1534.6 1003.3L1536.3 1001.1M1500.2 1035.8L1498.0 1037.4M1514.4 1012.0L1514.6 1013.2M1521.8 1053.0L1522.5 1055.6M1522.7 1046.0L1523.1 1047.3M1496.5 1004.8L1494.9 1003.5M1510.9 1018.7L1509.5 1018.1M1492.7 1019.1L1491.0 1019.5M1519.0 1024.6L1519.2 1027.5M1522.0 1029.2L1523.1 1031.7M1500.2 1032.1L1498.4 1034.2M1497.6 1027.4L1496.4 1027.7M1514.3 1034.1L1514.1 1036.4" stroke="#555" stroke-width="0.65" fill="none" stroke-linecap="round"/>
<path d="M1546.7 1027.1L1549.6 1026.9M1512.8 1013.4L1512.8 1015.8M1492.5 1013.0L1491.1 1012.5M1535.9 1010.8L1538.8 1010.5M1519.7 1050.6L1519.5 1052.2M1508.6 1019.2L1505.6 1019.3M1516.6 1051.1L1516.1 1052.8M1503.3 997.6L1502.8 995.9M1526.6 1041.9L1528.5 1044.1M1515.0 1011.4L1515.3 1013.6M1521.3 1001.5L1521.2 998.7M1519.5 1051.9L1519.8 1054.8M1544.0 1021.8L1545.9 1022.7M1494.1 1022.2L1492.4 1022.8M1501.9 1015.4L1499.3 1013.9M1515.5 1052.3L1515.4 1054.0M1508.5 1052.1L1508.4 1054.0M1502.1 1017.4L1499.3 1017.6M1523.0 1010.5L1524.0 1009.2M1512.2 1007.7L1511.1 1005.7M1513.1 1043.1L1512.9 1044.7M1522.0 1039.0L1523.2 1041.1M1511.2 1041.6L1510.7 1043.5M1525.9 1020.3L1527.4 1020.2M1536.1 1036.2L1537.5 1037.9M1516.0 1044.4L1516.1 1047.1M1495.3 990.8L1494.2 989.7M1490.2 1028.0L1487.2 1028.2M1535.7 1011.9L1537.2 1011.6M1539.8 1013.7L1541.9 1012.5M1513.9 1016.9L1513.7 1018.9M1518.2 1006.9L1518.1 1008.8M1544.5 1032.3L1546.4 1033.7M1515.5 1050.5L1515.2 1051.7M1522.3 1008.3L1523.9 1005.9M1524.5 1009.4L1525.9 1007.2M1531.9 1001.9L1533.4 999.2M1494.9 1018.5L1492.6 1017.8M1531.7 1025.5L1533.7 1026.0M1537.9 1011.1L1539.0 1010.7M1497.7 995.8L1496.5 995.0M1501.4 1011.1L1499.1 1009.1M1502.0 1023.3L1500.4 1024.1M1535.4 999.5L1536.3 998.5M1517.1 1018.1L1517.1 1020.9M1519.4 1043.3L1519.9 1044.4M1524.6 1052.4L1525.4 1054.2M1532.0 1003.6L1533.9 1001.6M1530.7 1017.3L1533.2 1016.2M1537.6 1006.2L1539.6 1005.2M1509.6 1025.4L1508.8 1026.4M1498.2 1036.7L1495.8 1038.0M1527.4 1008.8L1528.1 1007.3M1543.0 1025.2L1544.3 1025.2M1521.1 1042.0L1521.2 1043.7M1505.7 1037.0L1504.4 1039.7M1520.4 1046.8L1521.0 1048.5M1495.1 1039.6L1493.6 1041.3M1527.9 1040.1L1529.7 1042.2M1518.1 1025.6L1518.3 1027.2M1499.9 1026.6L1498.1 1026.8M1523.1 1047.3L1523.9 1049.9M1519.8 1023.6L1520.1 1026.4M1541.5 991.9L1542.7 991.0M1517.3 1027.5L1517.0 1029.8M1490.6 1028.4L1487.9 1029.1M1499.5 1044.3L1499.0 1045.6M1513.5 1033.8L1513.1 1037.0M1524.3 1052.8L1524.5 1054.1M1518.1 1047.8L1518.3 1050.6M1530.3 1042.8L1531.9 1045.4M1529.1 1038.2L1529.9 1041.1M1513.9 1043.5L1513.9 1046.6M1520.0 1051.4L1519.9 1053.1M1541.2 1022.9L1543.5 1023.9M1490.9 1030.2L1488.6 1031.4M1537.5 1033.6L1539.4 1035.4M1538.9 1026.4L1540.6 1026.6M1521.5 1042.3L1522.3 1043.8M1518.8 1027.9L1518.5 1031.0M1529.6 1045.1L1531.5 1047.5M1530.2 1002.8L1531.9 1001.1M1514.5 1037.1L1514.3 1038.3M1539.0 1003.9L1540.6 1003.1M1519.6 1004.8L1519.8 1006.5M1499.8 1044.0L1499.0 1045.4M1541.7 1016.7L1544.2 1017.0M1536.3 1004.4L1537.6 1002.8M1535.0 1008.9L1537.6 1007.6M1491.5 1015.0L1489.7 1015.2M1533.0 997.6L1534.0 994.9M1529.3 1032.1L1530.8 1033.6M1543.6 1037.4L1544.7 1038.3M1521.9 1041.5L1522.4 1044.2M1541.3 1026.8L1543.0 1027.6M1511.0 1005.7L1510.9 1003.1M1522.5 1037.1L1522.4 1040.1M1515.2 1046.0L1515.1 1047.4M1512.6 1048.6L1512.9 1050.1M1497.5 1043.9L1496.0 1046.5M1532.5 1025.4L1533.9 1025.7M1513.1 1009.4L1513.3 1011.2M1496.6 992.0L1495.9 990.7M1536.0 1023.1L1537.9 1023.5M1534.2 1013.0L1536.7 1012.7M1492.8 1029.4L1490.2 1029.6M1503.1 1044.8L1502.5 1045.9M1520.1 1045.9L1520.4 1047.1M1514.2 1041.5L1513.3 1044.0M1512.0 1023.6L1510.3 1025.1M1494.0 1040.3L1491.8 1041.6M1516.5 1000.8L1516.4 1003.1M1536.6 1009.2L1538.6 1007.4M1512.4 1047.9L1511.1 1050.8M1538.1 1029.4L1540.5 1030.8M1495.9 1036.3L1493.9 1038.4M1513.1 1044.2L1512.2 1046.4M1520.8 1050.3L1521.0 1053.4M1539.8 1015.2L1541.5 1014.3M1537.3 1022.5L1538.8 1023.1M1504.0 1039.9L1503.6 1041.3M1526.9 1020.7L1528.8 1021.6M1535.2 999.3L1536.5 997.9M1516.6 1052.6L1516.3 1055.6M1511.1 1026.1L1509.5 1027.6M1539.5 1009.4L1540.9 1008.5M1534.0 1028.7L1536.7 1029.2M1541.0 1033.7L1543.1 1036.0M1532.6 1029.0L1534.7 1030.1M1538.1 1007.2L1539.1 1006.4M1533.3 1002.9L1535.2 1001.4M1493.9 1016.6L1491.0 1016.3M1515.8 1010.4L1515.9 1012.1M1513.2 1049.8L1512.9 1052.3M1510.4 1006.9L1509.0 1004.7M1496.5 1006.0L1494.9 1004.8M1534.2 1011.5L1536.6 1009.9M1493.5 1032.1L1492.4 1032.9M1508.6 1034.8L1507.2 1036.6M1522.0 1042.1L1523.6 1044.6M1508.4 1028.4L1506.6 1030.9M1507.1 1009.2L1505.2 1007.0M1520.1 1007.1L1519.9 1010.0M1520.4 1026.9L1520.6 1029.0M1497.9 1019.6L1495.7 1018.8M1519.5 1016.8L1519.2 1019.4M1539.1 1023.1L1540.9 1022.9M1500.5 1010.4L1498.5 1010.0M1531.0 1047.6L1531.7 1049.8M1497.0 1011.9L1494.6 1010.3M1539.0 1011.1L1541.2 1010.3M1509.9 1031.4L1509.2 1033.0M1518.5 1009.7L1518.4 1011.5M1490.6 1030.7L1488.8 1031.2M1525.9 1022.6L1527.1 1023.3" stroke="#888" stroke-width="0.65" fill="none" stroke-linecap="round"/>
<path d="M1491.8 1017.0L1489.4 1017.3M1493.6 1016.6L1492.3 1016.5M1504.2 1014.5L1502.8 1013.9M1537.6 1043.0L1538.8 1044.5M1516.7 1032.1L1516.3 1034.8M1511.7 1051.5L1511.8 1053.0M1519.2 1025.7L1519.3 1027.4M1521.8 1051.3L1522.7 1053.2M1495.9 1036.3L1493.0 1037.5M1495.6 1036.8L1492.9 1038.1M1526.1 1037.4L1527.1 1039.4M1543.1 1034.1L1544.6 1034.3M1503.2 1002.8L1502.3 1001.7M1502.1 1031.0L1500.8 1032.8M1502.5 1033.0L1501.6 1034.7M1511.2 1003.1L1510.4 1002.0M1538.6 1043.3L1539.9 1044.7M1533.9 1044.9L1534.5 1046.6M1522.3 1013.6L1523.2 1012.2M1537.7 1032.1L1540.2 1033.5M1502.3 1028.6L1501.2 1030.0M1511.3 1025.3L1510.0 1027.6M1509.3 1002.0L1507.2 999.8M1543.9 1029.9L1545.3 1030.8M1511.9 1044.9L1511.9 1046.9M1518.3 1013.9L1517.9 1016.6M1496.6 1041.0L1494.9 1043.2M1521.5 1027.3L1522.0 1029.7M1513.7 1022.8L1513.6 1024.1M1503.0 1031.4L1501.9 1031.9M1494.1 1019.5L1492.3 1019.9M1532.3 1047.4L1533.0 1048.4M1532.0 1005.0L1533.4 1002.6M1531.7 1045.5L1532.8 1047.8M1498.8 1038.5L1496.9 1040.2M1492.8 1030.8L1491.0 1031.5M1515.3 1051.5L1515.1 1053.5M1502.4 997.2L1501.4 996.1M1532.5 1008.4L1534.2 1007.6M1497.5 1039.8L1496.9 1041.1M1497.9 1043.9L1496.6 1045.9M1531.5 1014.2L1534.6 1013.9M1510.8 1018.0L1507.7 1017.9M1539.9 1027.7L1542.1 1028.5M1501.6 1000.4L1501.0 998.8M1501.7 1001.6L1499.5 1000.3M1501.6 996.3L1500.9 993.8M1508.5 1008.8L1507.4 1007.2M1538.2 1025.2L1540.4 1026.1M1515.5 1039.6L1515.7 1041.5M1496.5 1018.3L1494.5 1018.8M1521.2 1036.2L1521.0 1038.8M1547.4 1026.2L1548.6 1026.7M1535.6 1017.3L1538.5 1016.9M1503.8 1023.5L1502.1 1024.8M1501.0 1041.3L1500.0 1042.6M1506.7 1005.0L1505.3 1002.4M1510.7 1027.2L1508.5 1028.6M1545.8 1018.4L1548.3 1018.2M1495.9 992.7L1495.2 991.1M1503.4 1047.9L1502.5 1048.9M1495.5 995.2L1494.0 993.5M1519.2 1008.3L1519.4 1010.7M1524.1 1044.2L1524.4 1045.4M1514.3 1032.6L1514.7 1035.4M1495.2 1027.8L1492.8 1028.9M1498.0 1009.4L1496.0 1008.7M1536.9 1020.4L1539.1 1019.9M1499.7 1027.6L1497.0 1028.2M1511.6 1033.4L1510.5 1035.7M1531.4 1001.3L1532.3 1000.2M1525.7 1028.2L1527.7 1029.3M1544.5 1034.5L1546.2 1035.0M1502.7 1036.2L1501.1 1038.3M1530.2 1038.2L1531.1 1039.1M1528.2 1027.7L1529.5 1028.3M1545.1 1019.4L1547.0 1019.4M1499.1 1032.8L1497.1 1033.4M1540.9 1013.3L1543.0 1012.2M1512.0 1011.6L1511.1 1010.4M1501.4 997.0L1499.7 995.5M1513.1 1024.2L1513.3 1026.0M1528.0 1014.1L1529.7 1013.4M1510.4 1035.9L1509.9 1037.7M1541.6 1012.9L1543.4 1011.6M1507.8 1036.3L1507.1 1038.4M1497.2 1028.8L1494.8 1029.8M1528.4 1037.5L1530.2 1039.8M1534.2 1028.4L1535.7 1028.6M1517.3 1007.2L1517.2 1008.7M1533.9 998.6L1535.9 997.4M1537.6 1034.0L1539.9 1035.6M1521.5 1039.3L1521.4 1041.2M1513.1 1004.6L1513.2 1006.0M1528.9 1017.6L1530.1 1017.8M1507.4 1006.6L1505.8 1004.6M1532.5 1046.1L1533.2 1048.6M1493.4 1014.1L1491.5 1014.3M1529.2 1029.3L1531.0 1031.7M1527.2 1028.7L1528.8 1029.6M1512.7 1013.0L1512.3 1011.3M1534.2 1018.1L1535.8 1017.9M1539.2 1013.7L1542.1 1012.4M1535.1 1026.6L1536.6 1027.6M1490.2 1031.5L1487.7 1032.5M1501.2 1026.0L1498.5 1027.3M1505.4 1027.7L1504.0 1028.1M1516.4 1031.9L1516.2 1033.8M1493.0 1029.9L1490.2 1030.7M1506.7 1029.0L1505.9 1030.0M1510.5 1006.3L1509.8 1004.5M1521.7 1040.1L1522.6 1042.1M1503.6 1005.6L1502.2 1003.0M1501.5 1035.0L1499.3 1036.6M1536.2 1024.1L1538.0 1024.4M1538.4 1013.7L1540.6 1013.5M1507.4 1004.2L1505.8 1001.8M1523.0 1000.4L1523.7 999.1M1498.8 1025.0L1496.1 1025.2M1494.4 1016.3L1493.1 1016.2M1518.7 1022.8L1518.8 1024.7M1495.9 1032.5L1494.5 1033.9M1531.7 1021.3L1534.3 1021.3M1540.6 1042.9L1542.8 1044.4M1512.2 1025.9L1511.2 1026.7M1499.0 1011.8L1496.9 1011.2M1499.1 1043.1L1497.8 1045.0M1526.2 1029.9L1528.7 1031.3M1503.3 1021.1L1500.7 1022.0M1502.5 998.9L1500.3 997.0M1534.0 1017.0L1535.7 1017.2M1502.8 1006.4L1501.0 1004.0M1524.2 1032.1L1525.7 1034.5M1541.4 1031.6L1543.9 1032.8" stroke="#fff" stroke-width="0.8" fill="none" stroke-linecap="round"/>
<path d="M1496.2 1009.1L1494.6 990.1L1509.7 1002.0" stroke="#333" stroke-width="0.8" fill="none"/>
<path d="M1528.7 1002.8L1541.4 990.1L1542.2 1013.1" stroke="#333" stroke-width="0.8" fill="none"/></g>
</svg></body></html>
